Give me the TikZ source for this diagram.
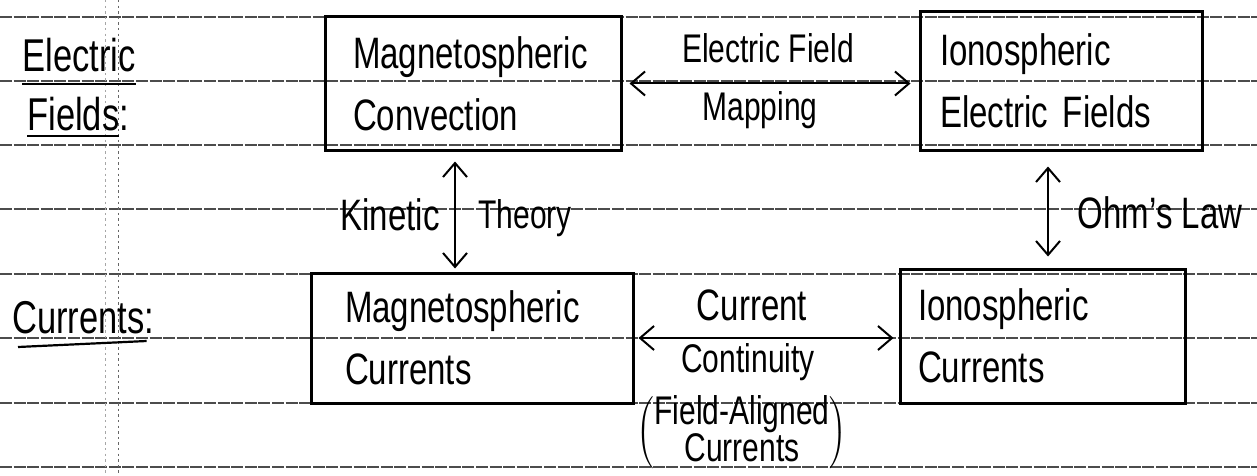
\documentclass[tikz,border=0pt]{standalone}
\usepackage{fontspec}
\setmainfont[FakeStretch=0.75]{Liberation Sans}
\usetikzlibrary{arrows.meta,calc}
\begin{document}
\begin{tikzpicture}[x=0.5pt,y=-0.5pt,
  rule/.style={black!70, line width=0.55pt, dash pattern=on 6pt off 0.8pt},
  margin/.style={black!60, line width=0.5pt, dash pattern=on 1.2pt off 1.6pt},
  box/.style={draw, line width=1.5pt, align=left, inner ysep=0pt,
    font=\fontsize{22}{31}\selectfont},
  lbl/.style={font=\fontsize{20}{24}\selectfont, inner sep=0pt, anchor=base},
  side/.style={font=\fontsize{23}{28}\selectfont, inner sep=0pt, anchor=base west},
  uline/.style={line width=1.1pt},
  dbl/.style={{Straight Barb[length=7pt,width=12pt]}-{Straight Barb[length=7pt,width=12pt]}, line width=1pt},
]
\useasboundingbox (0,0) rectangle (1257,476);
% ruled paper
\foreach \y in {17,81,145,209,274,338,403,467} \draw[rule] (0,\y) -- (1257,\y);
\draw[margin] (118,0) -- (118,476);
\draw[margin, black!35] (105,0) -- (105,476);

% row headings
\node[side] (ef1) at (22,72) {Electric};
\node[side] (ef2) at (27,130) {Fields:};
\node[side] (cu1) at (12,333) {Currents:};
\draw[uline] ([yshift=-6pt]ef1.base west) -- ([yshift=-6pt]ef1.base east);
\draw[uline] ([yshift=-3pt]ef2.base west) -- ([xshift=-5pt,yshift=-3pt]ef2.base east);
\draw[uline] ([xshift=3pt,yshift=-7pt]cu1.base west) -- ([xshift=-4pt,yshift=-4pt]cu1.base east);

% boxes
\node[box, text width=120pt, inner xsep=14pt, minimum height=66.5pt] (m1) at (473,83.5)
  {Magnetospheric\\Convection};
\node[box, text width=121pt, inner xsep=10pt, minimum height=69pt] (i1) at (1061,81)
  {Ionospheric\\Electric Fields};
\node[box, text width=127pt, inner xsep=17pt, minimum height=65pt] (m2) at (472,338)
  {Magnetospheric\\Currents};
\node[box, text width=124.5pt, inner xsep=9pt, minimum height=67pt] (i2) at (1042.5,336)
  {Ionospheric\\Currents};

% connectors
\draw[dbl, shorten <=3.5pt, shorten >=4pt] (m1.east) -- (m1.east -| i1.west);
\draw[dbl, shorten <=5pt, shorten >=1.5pt] ([xshift=-9pt]m1.south) -- ([xshift=-8.5pt]m2.north);
\draw[dbl, shorten <=7.5pt, shorten >=5.5pt] ([xshift=-6.5pt]i1.south) -- ([xshift=2.75pt]i2.north);
\draw[dbl, shorten <=2pt, shorten >=2.5pt] (m2.east) -- (m2.east -| i2.west);

% connector labels
\node[lbl] (efm1) at (768,63) {Electric Field};
\node[lbl] (efm2) at (760,120) {Mapping};
\node[lbl, font=\fontsize{22}{26}\selectfont] (kt1) at (390,230) {Kinetic};
\node[lbl] (kt2) at (525,228) {Theory};
\node[lbl, font=\fontsize{22}{26}\selectfont] (ohm) at (1160,228) {Ohm's Law};
\node[lbl, font=\fontsize{22}{26}\selectfont] (cc1) at (752,320) {Current};
\node[lbl] (cc2) at (748,372) {Continuity};
\node[inner sep=0pt, font=\fontsize{20}{15}\selectfont] (fac) at (742,433)
  {$\left(\begin{tabular}{@{}c@{}}Field-Aligned\\Currents\end{tabular}\right)$};
\end{tikzpicture}
\end{document}
